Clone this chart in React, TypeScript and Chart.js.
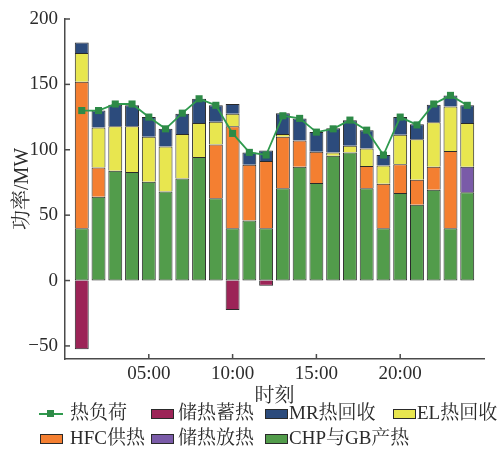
import React, { useEffect, useRef } from "react";
import { Chart, registerables } from "chart.js";

Chart.register(...registerables);

const hours = [1, 2, 3, 4, 5, 6, 7, 8, 9, 10, 11, 12, 13, 14, 15, 16, 17, 18, 19, 20, 21, 22, 23, 24];
const chpGb = [40, 64, 84, 83, 75.5, 68, 78, 94.5, 63, 40, 46, 40, 70.5, 87, 74.5, 95.5, 98, 70.5, 40, 67, 58, 69.5, 40, 67.5];
const hfc = [112, 22.5, 0, 0, 0, 0, 0, 0, 41, 78, 42.5, 51.5, 39.5, 20, 24, 0, 0, 17, 34, 22, 19, 17.5, 59, 0];
const storageOut = [0, 0, 0, 0, 0, 0, 0, 0, 0, 0, 0, 0, 0, 0, 0, 0, 0, 0, 0, 0, 0, 0, 0, 19.5];
const elRecovery = [22, 30.5, 34, 35, 34.5, 34.5, 34, 26, 17.5, 9.5, 0, 0, 2, 0, 0, 2.5, 5, 13.5, 14, 22.5, 31, 34, 34, 33.5];
const mrRecovery = [8, 13, 16.5, 16, 15, 13.5, 15.5, 18.5, 12.5, 7.5, 9.5, 8, 16, 17, 15, 18.5, 19.5, 14, 8, 13.5, 11.5, 13.5, 8.5, 13.5];
const storageIn = [-52.5, 0, 0, 0, 0, 0, 0, 0, 0, -22.5, 0, -4, 0, 0, 0, 0, 0, 0, 0, 0, 0, 0, 0, 0];
const heatLoad = [130, 130, 135, 135, 125, 116, 128, 139, 134, 112.5, 98, 96, 126, 124, 113.5, 116, 122.7, 115, 96, 125, 119, 135, 141.6, 134];
const xTickValues = [5, 10, 15, 20];
const xTickLabels = ["05:00", "10:00", "15:00", "20:00"];
const yTickValues = [-50, 0, 50, 100, 150, 200];

const FONT = '"Liberation Serif", "Noto Serif CJK SC", "Noto Sans CJK SC", serif';
const TEXT = "#2b2b2b";
const AXIS = "#4a4a4a";
const EDGE = "#2a2a2a";

const C = {
  green: "#529c4b",
  orange: "#f47f31",
  purple: "#7a5ba8",
  yellow: "#e8e64f",
  navy: "#2c4b7c",
  maroon: "#9c2457",
  line: "#2f9a4e",
  marker: "#2d8a47",
};

const toPoints = (arr: number[]) =>
  hours.map((h, i) => ({ x: h, y: arr[i] === 0 ? null : arr[i] }));

const inwardTicks = {
  id: "inwardTicks",
  afterDraw(chart: any) {
    const { ctx, chartArea, scales } = chart;
    ctx.save();
    ctx.strokeStyle = AXIS;
    ctx.lineWidth = 1.5;
    for (const v of yTickValues) {
      const y = scales.y.getPixelForValue(v);
      ctx.beginPath();
      ctx.moveTo(chartArea.left, y);
      ctx.lineTo(chartArea.left + 5, y);
      ctx.stroke();
    }
    for (const v of xTickValues) {
      const x = scales.x.getPixelForValue(v);
      ctx.beginPath();
      ctx.moveTo(x, chartArea.bottom);
      ctx.lineTo(x, chartArea.bottom - 5);
      ctx.stroke();
    }
    ctx.restore();
  },
};

const barCommon = {
  type: "bar" as const,
  stack: "s",
  order: 1,
  borderColor: EDGE,
  borderWidth: 1,
  borderSkipped: "start",
  inflateAmount: 0,
  categoryPercentage: 1,
  barPercentage: 0.83,
};

function Legend() {
  const text: React.CSSProperties = {
    position: "absolute",
    fontFamily: FONT,
    fontSize: 19,
    color: TEXT,
    lineHeight: "22px",
    whiteSpace: "nowrap",
  };
  const box = (left: number, top: number, color: string) => (
    <div
      style={{
        position: "absolute",
        left,
        top,
        width: 21,
        height: 8,
        background: color,
        border: `1.5px solid ${EDGE}`,
      }}
    />
  );
  const r1 = 414;
  const r2 = 439;
  return (
    <div style={{ position: "absolute", left: 0, top: 0, width: 504, height: 450, pointerEvents: "none" }}>
      <div style={{ position: "absolute", left: 39, top: r1 - 1, width: 24, height: 1.5, background: C.line }} />
      <div style={{ position: "absolute", left: 47, top: r1 - 4, width: 7, height: 7, background: C.marker }} />
      <div style={{ ...text, left: 70, top: r1 - 12 }}>热负荷</div>
      {box(151, r1 - 5, C.maroon)}
      <div style={{ ...text, left: 178, top: r1 - 12 }}>储热蓄热</div>
      {box(265, r1 - 5, C.navy)}
      <div style={{ ...text, left: 289, top: r1 - 12 }}>MR热回收</div>
      {box(393, r1 - 5, C.yellow)}
      <div style={{ ...text, left: 417, top: r1 - 12 }}>EL热回收</div>

      {box(40, r2 - 5, C.orange)}
      <div style={{ ...text, left: 70, top: r2 - 12 }}>HFC供热</div>
      {box(151, r2 - 5, C.purple)}
      <div style={{ ...text, left: 178, top: r2 - 12 }}>储热放热</div>
      {box(265, r2 - 5, C.green)}
      <div style={{ ...text, left: 289, top: r2 - 12 }}>CHP与GB产热</div>
    </div>
  );
}

export default function App() {
  const ref = useRef<HTMLCanvasElement | null>(null);

  useEffect(() => {
    if (!ref.current) return;
    const chart = new Chart(ref.current, {
      type: "bar",
      data: {
        datasets: [
          {
            type: "line",
            label: "热负荷",
            data: hours.map((h, i) => ({ x: h, y: heatLoad[i] })),
            stack: "load",
            order: 0,
            borderColor: C.line,
            borderWidth: 1.8,
            backgroundColor: C.marker,
            pointBackgroundColor: C.marker,
            pointBorderColor: C.marker,
            pointStyle: "rect",
            pointRadius: 5,
            pointBorderWidth: 0,
            tension: 0,
          } as any,
          { ...barCommon, label: "CHP与GB产热", data: toPoints(chpGb), backgroundColor: C.green, borderSkipped: false },
          { ...barCommon, label: "HFC供热", data: toPoints(hfc), backgroundColor: C.orange },
          { ...barCommon, label: "储热放热", data: toPoints(storageOut), backgroundColor: C.purple },
          { ...barCommon, label: "EL热回收", data: toPoints(elRecovery), backgroundColor: C.yellow },
          { ...barCommon, label: "MR热回收", data: toPoints(mrRecovery), backgroundColor: C.navy },
          { ...barCommon, label: "储热蓄热", data: toPoints(storageIn), backgroundColor: C.maroon },
        ] as any,
      },
      options: {
        responsive: false,
        animation: false,
        layout: { padding: { top: 19, right: 20, bottom: 41, left: 0 } },
        plugins: { legend: { display: false }, tooltip: { enabled: false } },
        scales: {
          x: {
            type: "linear",
            min: 0,
            max: 25,
            stacked: true,
            offset: false,
            grid: { display: false, drawTicks: false },
            border: { display: true, color: AXIS, width: 1.5 },
            afterBuildTicks: (s: any) => {
              s.ticks = xTickValues.map((v) => ({ value: v }));
            },
            ticks: {
              autoSkip: false,
              maxRotation: 0,
              padding: 4,
              color: TEXT,
              font: { family: FONT, size: 19 },
              callback: (v: any) => {
                const i = xTickValues.indexOf(Number(v));
                return i >= 0 ? xTickLabels[i] : null;
              },
            },
            title: {
              display: true,
              text: "时刻",
              color: TEXT,
              font: { family: FONT, size: 20 },
              padding: { top: 4, bottom: 0 },
            },
            afterFit: (s: any) => {
              s.height = 50;
            },
          },
          y: {
            stacked: true,
            min: -60,
            max: 200,
            grid: { display: false, drawTicks: false },
            border: { display: true, color: AXIS, width: 1.5 },
            afterBuildTicks: (s: any) => {
              s.ticks = yTickValues.map((v) => ({ value: v }));
            },
            ticks: {
              padding: 7,
              color: TEXT,
              font: { family: FONT, size: 19 },
              callback: (v: any) => (Number(v) < 0 ? "\u2212" + Math.abs(Number(v)) : String(v)),
            },
            title: {
              display: true,
              text: "功率/MW",
              color: TEXT,
              font: { family: FONT, size: 20 },
              padding: { top: 11, bottom: 0 },
            },
            afterFit: (s: any) => {
              s.width = 65;
            },
          },
        },
      },
      plugins: [inwardTicks],
    });
    return () => chart.destroy();
  }, []);

  return (
    <div style={{ position: "absolute", left: 0, top: 0, width: 504, height: 450, background: "#fff" }}>
      <canvas ref={ref} width={504} height={450} style={{ position: "absolute", left: 0, top: 0, width: 504, height: 450 }} />
      <Legend />
    </div>
  );
}
